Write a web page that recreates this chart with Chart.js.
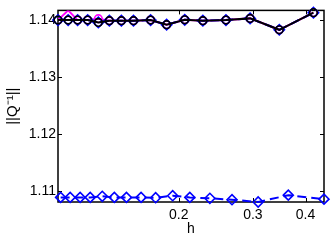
<!DOCTYPE html>
<html><head><meta charset="utf-8">
<script src="https://cdn.jsdelivr.net/npm/chart.js@4"></script>
<style>html,body{margin:0;padding:0;background:#fff}</style>
</head><body>
<canvas id="c" width="332" height="240" style="display:block;width:332px;height:240px"></canvas>
<script>
// h values (x)
const hTop = [0.1034, 0.1093, 0.1151, 0.1216, 0.1289, 0.1369, 0.1462, 0.1562, 0.1715, 0.1872, 0.2067, 0.2282, 0.2589, 0.2954, 0.3465, 0.4176];
const hBottom = [0.1049, 0.1105, 0.1167, 0.1233, 0.1317, 0.1407, 0.1503, 0.1628, 0.1763, 0.1935, 0.2125, 0.2371, 0.2676, 0.3087, 0.3640, 0.4424];
// ||Q^-1|| values
const blackVals = [1.1400, 1.1400, 1.1400, 1.1400, 1.1396, 1.1399, 1.1399, 1.1399, 1.1400, 1.1392, 1.14005, 1.1399, 1.1400, 1.1403, 1.1383, 1.1413];
const blueTopVals = [1.1400, 1.1400, 1.1400, 1.1400, 1.1396, 1.1399, 1.1399, 1.1399, 1.1400, 1.1392, 1.14005, 1.1399, 1.1400, 1.1403, 1.1383, 1.1413];
const magentaVals = [1.1400, 1.1417, 1.1400, 1.1400, 1.14025, 1.1399, 1.1399, 1.1399, 1.1400, 1.1392, 1.14005, 1.1399, 1.1400, 1.1403, 1.1383, 1.1413];
const blueBottomVals = [1.1089, 1.1089, 1.1089, 1.1089, 1.1091, 1.1089, 1.1089, 1.1089, 1.10885, 1.1092, 1.1089, 1.10875, 1.1085, 1.1081, 1.1093, 1.1086];
const xTicks = [0.2, 0.3, 0.4];
const yTicks = [1.11, 1.12, 1.13, 1.14];
const xLabel = 'h';
const yLabel = '||Q\u207B\u00B9||';

const FONT = '"Liberation Sans", Arial, Helvetica, sans-serif';
const pts = (xs, ys) => xs.map((x, i) => ({x: x, y: ys[i]}));
const allX = hTop.concat(hBottom);
const allY = blackVals.concat(blueTopVals, magentaVals, blueBottomVals);

const boxPlugin = {
  id: 'box',
  beforeDatasetsDraw(chart) {
    const {ctx, chartArea: a, scales: {x, y}} = chart;
    ctx.save();
    ctx.strokeStyle = '#000';
    ctx.lineWidth = 1;
    const L = 4;
    ctx.beginPath();
    yTicks.forEach(v => {
      const p = Math.round(y.getPixelForValue(v)) + 0.5;
      ctx.moveTo(a.left, p); ctx.lineTo(a.left + L, p);
      ctx.moveTo(a.right, p); ctx.lineTo(a.right - L, p);
    });
    xTicks.forEach(v => {
      const p = Math.round(x.getPixelForValue(v)) + 0.5;
      ctx.moveTo(p, a.bottom); ctx.lineTo(p, a.bottom - L);
      ctx.moveTo(p, a.top); ctx.lineTo(p, a.top + L);
    });
    ctx.stroke();
    ctx.lineWidth = 1.5;
    ctx.strokeRect(a.left, a.top, a.right - a.left, a.bottom - a.top);
    ctx.restore();
  }
};

const clear = 'rgba(0,0,0,0)';
new Chart(document.getElementById('c'), {
  type: 'line',
  data: {
    datasets: [
      {data: pts(hTop, blackVals), borderColor: '#000', borderWidth: 2, pointStyle: 'circle', pointRadius: 3.8, pointBorderWidth: 1.6, pointBorderColor: '#000', pointBackgroundColor: clear, clip: false, tension: 0},
      {data: pts(hTop, blueTopVals), borderColor: '#0000ff', borderWidth: 2, borderDash: [9, 5], pointStyle: 'rectRot', pointRadius: 5.2, pointBorderWidth: 1.6, pointBorderColor: '#0000ff', pointBackgroundColor: clear, clip: false, tension: 0},
      {data: pts(hBottom, blueBottomVals), borderColor: '#0000ff', borderWidth: 2, borderDash: [9, 5], pointStyle: 'rectRot', pointRadius: 5, pointBorderWidth: 1.6, pointBorderColor: '#0000ff', pointBackgroundColor: clear, clip: false, tension: 0},
      {data: pts(hTop, magentaVals), borderColor: '#ff00ff', borderWidth: 2, pointStyle: 'circle', pointRadius: ctx => (ctx.dataIndex === 1 ? 0 : 3.8), pointBorderWidth: 1.6, pointBorderColor: '#ff00ff', pointBackgroundColor: clear, clip: 0, tension: 0}
    ]
  },
  options: {
    responsive: false,
    animation: false,
    devicePixelRatio: 1,
    layout: {padding: {left: 0, right: 8, top: 4, bottom: 0}},
    plugins: {legend: {display: false}, tooltip: {enabled: false}},
    scales: {
      x: {
        type: 'logarithmic',
        min: Math.min(...allX), max: Math.max(...allX),
        afterBuildTicks: s => { s.ticks = xTicks.map(v => ({value: v})); },
        afterFit: s => { s.height = 38; },
        ticks: {callback: v => Number(v).toFixed(1), font: {family: FONT, size: 14}, color: '#000', padding: 5, maxRotation: 0, autoSkip: false},
        grid: {display: false, drawTicks: false},
        border: {display: false},
        title: {display: true, text: xLabel, font: {family: FONT, size: 14}, color: '#000', padding: {top: 0, bottom: 2}}
      },
      y: {
        type: 'linear',
        min: Math.min(...allY), max: Math.max(...allY),
        afterBuildTicks: s => { s.ticks = yTicks.map(v => ({value: v})); },
        afterFit: s => { s.width = 58; },
        ticks: {callback: v => Number(v).toFixed(2), font: {family: FONT, size: 14}, color: '#000', padding: 2, autoSkip: false},
        grid: {display: false, drawTicks: false},
        border: {display: false},
        title: {display: true, text: yLabel, font: {family: FONT, size: 15}, color: '#000', padding: {top: 4, bottom: 0}}
      }
    }
  },
  plugins: [boxPlugin]
});
</script>
</body></html>
